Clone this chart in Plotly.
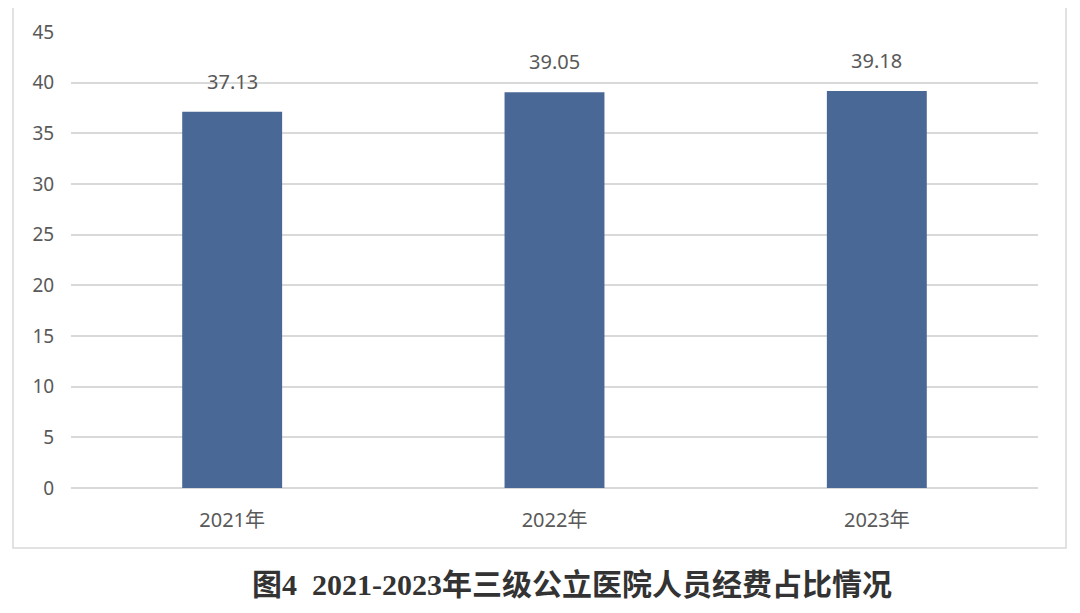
import plotly.graph_objects as go

categories = ["2021年", "2022年", "2023年"]
values = [37.13, 39.05, 39.18]
value_labels = ["37.13", "39.05", "39.18"]
y_ticks = [0, 5, 10, 15, 20, 25, 30, 35, 40, 45]
title_text = "图4  2021-2023年三级公立医院人员经费占比情况"

OFF = 8  # page body margin
W, H = 1080 - 2 * OFF, 613 - 2 * OFF
L, T = 71 - OFF, 32 - OFF
R = W - (1038 - OFF)
B = H - (488 - OFF)
pw, ph = W - L - R, H - T - B

fig = go.Figure()
fig.add_trace(go.Bar(
    x=categories, y=values, width=0.31,
    marker=dict(color="#4A6896", line=dict(width=0)),
    hoverinfo="skip",
))

for c, v, t in zip(categories, values, value_labels):
    fig.add_annotation(x=c, y=v, text=t, showarrow=False, yanchor="bottom",
                       yshift=15, font=dict(size=20, color="#595959",
                                            family="Noto Sans, sans-serif"))

def px_x(p):
    return (p - OFF - L) / pw

def px_y(p):
    return (H - B - (p - OFF)) / ph

fig.add_shape(type="rect", xref="paper", yref="paper",
              x0=px_x(13), x1=px_x(1066), y0=px_y(548), y1=px_y(4),
              line=dict(color="#d9d9d9", width=1.5), fillcolor="rgba(0,0,0,0)",
              layer="below")

fig.add_annotation(xref="paper", yref="paper", x=px_x(572), y=px_y(584),
                   text="<b>" + title_text + "</b>", showarrow=False,
                   xanchor="center", yanchor="middle",
                   font=dict(size=30, color="#333333",
                             family="Liberation Serif, Noto Sans CJK SC, serif"))

fig.update_layout(
    width=W, height=H,
    margin=dict(l=L, r=R, t=T, b=B),
    paper_bgcolor="white", plot_bgcolor="white",
    showlegend=False,
    font=dict(family="Noto Sans, sans-serif", size=20, color="#595959"),
    xaxis=dict(showgrid=False, showline=False, zeroline=False,
               ticks="outside", ticklen=14, tickcolor="rgba(0,0,0,0)",
               tickfont=dict(size=20, color="#595959",
                             family="Noto Sans, Noto Sans CJK SC, sans-serif"),
               range=[-0.5, 2.5]),
    yaxis=dict(range=[0, 45], tickvals=y_ticks, showgrid=True,
               gridcolor="#d9d9d9", gridwidth=1.5, zeroline=True,
               zerolinecolor="#d9d9d9", zerolinewidth=1.5, showline=False,
               ticks="outside", ticklen=12, tickcolor="rgba(0,0,0,0)",
               tickfont=dict(size=19, color="#595959")),
)

fig.write_html("out.html")
